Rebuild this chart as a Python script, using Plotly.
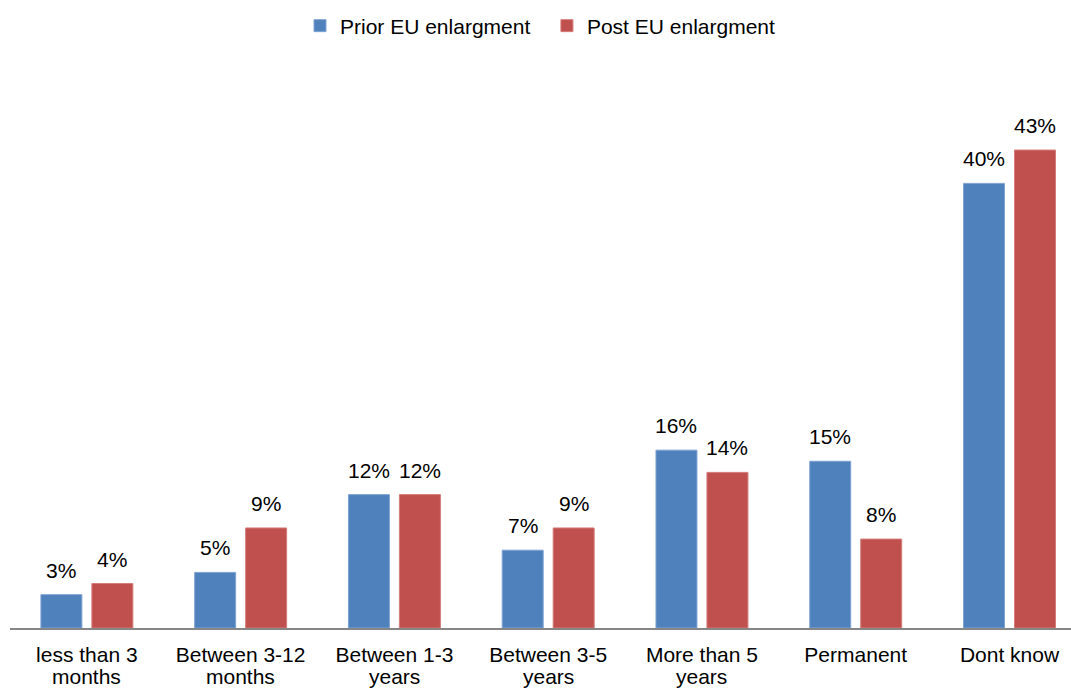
import plotly.graph_objects as go

categories = [
    "less than 3<br>months",
    "Between 3-12<br>months",
    "Between 1-3<br>years",
    "Between 3-5<br>years",
    "More than 5<br>years",
    "Permanent",
    "Dont know",
]
prior_values = [3, 5, 12, 7, 16, 15, 40]
post_values = [4, 9, 12, 9, 14, 8, 43]

series_names = ["Prior EU enlargment", "Post EU enlargment"]
series_colors = ["#4F81BD", "#C0504D"]
border_colors = ["#7FA3D1", "#D47C79"]

font_family = "Liberation Sans, Arial, sans-serif"
font_size = 21
bar_offset_px = 25.5  # half of a bar slot, left/right of category centre

x_pos = list(range(len(categories)))
legend_pad = "\u00a0\u00a0"  # widens the first legend entry

# category labels: first line as tick text, second line set tighter below it
label_first = [c.split("<br>")[0] for c in categories]
label_second = [c.split("<br>")[1] if "<br>" in c else "" for c in categories]

fig = go.Figure()
for i, (name, vals, color, edge) in enumerate(zip(series_names, [prior_values, post_values],
                                                  series_colors, border_colors)):
    fig.add_trace(go.Bar(
        name=name + (legend_pad if i == 0 else ""),
        x=x_pos,
        y=vals,
        marker=dict(color=color, line=dict(color=edge, width=1)),
        hovertemplate="%{y}%<extra>" + name + "</extra>",
    ))

# value labels above each bar
for shift, vals in zip([-bar_offset_px, bar_offset_px], [prior_values, post_values]):
    for xi, v in zip(x_pos, vals):
        fig.add_annotation(
            x=xi, y=v, xref="x", yref="y",
            text=f"{v}%",
            showarrow=False,
            xanchor="center", yanchor="bottom",
            xshift=shift, yshift=11,
            font=dict(size=font_size, color="#000000", family=font_family),
        )

# second line of the category labels
for xi, txt in zip(x_pos, label_second):
    if txt:
        fig.add_annotation(
            x=xi, y=0, xref="x", yref="y",
            text=txt,
            showarrow=False,
            xanchor="center", yanchor="top",
            yshift=-35,
            font=dict(size=font_size, color="#000000", family=font_family),
        )

fig.update_layout(
    width=1071,
    height=689,
    margin=dict(l=10, r=0, t=60, b=61),
    paper_bgcolor="white",
    plot_bgcolor="white",
    barmode="group",
    bargap=0.337,
    bargroupgap=0.196,
    font=dict(family=font_family, size=font_size, color="#000000"),
    showlegend=True,
    legend=dict(
        orientation="h",
        x=0.5, xanchor="center",
        y=1 - 26 / 689, yanchor="middle",
        yref="container",
        font=dict(size=font_size),
        itemwidth=30,
        traceorder="normal",
    ),
    xaxis=dict(
        range=[-0.5, 6.4],
        tickmode="array",
        tickvals=x_pos,
        ticktext=label_first,
        showline=True,
        linecolor="#868686",
        linewidth=2,
        ticks="",
        ticklabelstandoff=7,
        automargin=False,
        showgrid=False,
        zeroline=False,
        tickfont=dict(size=font_size),
    ),
    yaxis=dict(
        range=[0, 51.1],
        visible=False,
        showgrid=False,
        zeroline=False,
        automargin=False,
    ),
)

fig.write_html("out.html")
